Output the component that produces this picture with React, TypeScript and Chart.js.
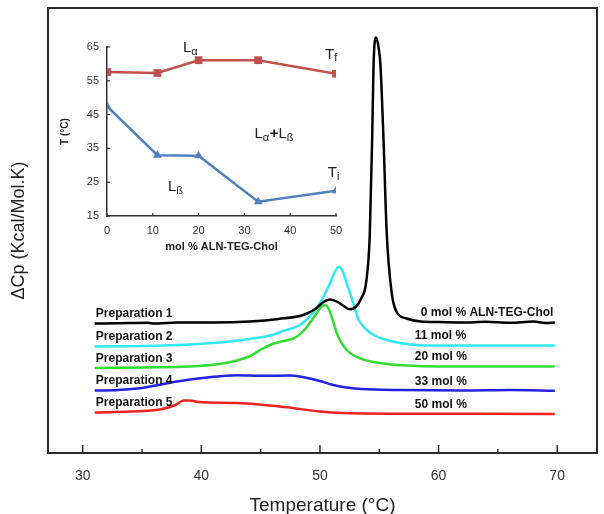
import React, { useEffect, useRef } from "react";
import { Chart, registerables } from "chart.js";
Chart.register(...registerables);

const FONT = "'Liberation Sans', Arial, sans-serif";

// ---- main DSC thermograms (x: temperature °C, y: ΔCp, arbitrary offset units) ----
const xTickValues = [30, 40, 50, 60, 70];
const xMinorTickValues = [35, 45, 55, 65];

const prep1T = [31, 33, 35.5, 36, 38, 41, 44.1, 46.5, 48.6, 49.6, 50.3, 50.84, 51.5, 52, 52.53, 53.0, 53.5, 53.9, 54.2, 54.4, 54.52, 54.73, 54.95, 55.1, 55.34, 55.63, 56.05, 56.47, 57.3, 58.5, 60, 62, 64, 66, 68, 69, 69.8];
const prep1Cp = [129.5, 129.8, 130.2, 129.4, 130.5, 130.5, 131.5, 134, 138, 144, 151, 153.5, 151, 147, 143.7, 146, 155, 171, 218, 313, 388, 415.5, 405, 388, 320, 220, 160, 141, 134.5, 131.5, 131, 130.5, 131.2, 130.2, 131.5, 130, 130.5];

const prep2T = [31, 35, 39, 42, 44.1, 46, 46.9, 48.3, 49.44, 50.14, 50.84, 51.25, 51.6, 51.95, 52.25, 52.81, 53.23, 53.94, 54.6, 55.34, 56.75, 57.6, 59, 69.8];
const prep2Cp = [106.5, 107, 108.5, 111, 114, 118, 122, 128, 140.5, 153, 169.5, 181, 186, 181, 170, 150, 134, 123, 117.5, 114, 110, 108.5, 107.5, 107.5];

const prep3T = [31, 35, 39, 41.5, 43, 44.1, 45.2, 46.0, 46.6, 47.47, 48.0, 48.6, 49.2, 49.72, 50.1, 50.42, 50.7, 50.98, 51.54, 52.25, 53.38, 55.34, 57.3, 60, 69.8];
const prep3Cp = [85, 85.5, 86.5, 89, 92.5, 97, 104.5, 109, 111, 113.5, 116, 122, 131, 139.7, 146, 148, 145, 136.3, 116.3, 103, 94.7, 89.5, 87.5, 86.5, 86.5];

const prep4T = [31, 33, 35, 36.8, 38.5, 40.5, 43, 45, 47.5, 49.5, 51.5, 53.5, 57, 62, 66, 69.8];
const prep4Cp = [62.5, 63, 65, 69, 72.5, 75.5, 77.7, 77.2, 77.5, 73.5, 67, 64, 63, 62.5, 63, 62.2];

const prep5T = [31, 34, 36.5, 37.8, 38.5, 39.0, 39.8, 43, 47, 50, 52.5, 60, 69.8];
const prep5Cp = [40.5, 41.5, 43.5, 48, 52.5, 52.5, 51, 50, 46, 41.5, 39.7, 39.2, 39];

const prepNames = ["Preparation 1", "Preparation 2", "Preparation 3", "Preparation 4", "Preparation 5"];
const molLabels = ["0 mol % ALN-TEG-Chol", "11 mol %", "20 mol %", "33 mol %", "50 mol %"];
const prepColors = ["#000000", "#33e8f4", "#33dd33", "#2222e0", "#f02222"];

// ---- inset phase diagram ----
const molPct = [0, 11, 20, 33, 50];
const tfValues = [57.6, 57.3, 61.1, 61.1, 57.1];
const tiValues = [47.5, 33.0, 32.8, 19.2, 22.5];
const insetXTicks = [0, 10, 20, 30, 40, 50];
const insetYTicks = [15, 25, 35, 45, 55, 65];

const insetLabels = [
  { parts: [["L", 0], ["α", 1]], x: 16.6, y: 64.6 },
  { parts: [["T", 0], ["f", 1]], x: 47.6, y: 62.8 },
  { parts: [["L", 0], ["α", 1], ["+", 0], ["L", 0], ["ß", 1]], x: 32.2, y: 39.2 },
  { parts: [["L", 0], ["ß", 1]], x: 13.3, y: 23.5 },
  { parts: [["T", 0], ["i", 1]], x: 48.2, y: 27.7 },
];

const series = [
  { t: prep1T, cp: prep1Cp },
  { t: prep2T, cp: prep2Cp },
  { t: prep3T, cp: prep3Cp },
  { t: prep4T, cp: prep4Cp },
  { t: prep5T, cp: prep5Cp },
];

const mainDecor = {
  id: "mainDecor",
  afterDraw(chart: any) {
    const { ctx, chartArea: a, scales } = chart;
    const xs = scales.x;
    const ys = scales.y;
    ctx.save();
    ctx.strokeStyle = "#2a2a2a";
    ctx.lineWidth = 2;
    ctx.strokeRect(a.left, a.top, a.right - a.left, a.bottom - a.top);
    ctx.lineWidth = 1.5;
    const tick = (v: number, len: number) => {
      const x = xs.getPixelForValue(v);
      ctx.beginPath();
      ctx.moveTo(x, a.bottom);
      ctx.lineTo(x, a.bottom - len);
      ctx.stroke();
    };
    xTickValues.forEach((v) => tick(v, 8));
    xMinorTickValues.forEach((v) => tick(v, 4));

    ctx.font = `bold 12px ${FONT}`;
    ctx.fillStyle = "#111";
    ctx.textBaseline = "middle";
    ctx.textAlign = "left";
    series.forEach((s, i) => {
      ctx.fillText(prepNames[i], xs.getPixelForValue(31.1), ys.getPixelForValue(s.cp[0]) - 9.5);
      ctx.fillText(
        molLabels[i],
        xs.getPixelForValue(i === 0 ? 58.5 : 58.0),
        ys.getPixelForValue(s.cp[s.cp.length - 1]) - 9.5
      );
    });
    ctx.restore();
  },
};

const insetDecor = {
  id: "insetDecor",
  afterDraw(chart: any) {
    const { ctx, chartArea: a, scales } = chart;
    const xs = scales.x;
    const ys = scales.y;
    ctx.save();
    ctx.strokeStyle = "#333";
    ctx.lineWidth = 1.2;
    insetXTicks.forEach((v) => {
      const x = xs.getPixelForValue(v);
      ctx.beginPath();
      ctx.moveTo(x, a.bottom);
      ctx.lineTo(x, a.bottom - 3);
      ctx.stroke();
    });
    insetYTicks.forEach((v) => {
      const y = ys.getPixelForValue(v);
      ctx.beginPath();
      ctx.moveTo(a.left, y);
      ctx.lineTo(a.left + 3, y);
      ctx.stroke();
    });
    ctx.fillStyle = "#222";
    ctx.textBaseline = "middle";
    ctx.textAlign = "left";
    insetLabels.forEach((l: any) => {
      let x = xs.getPixelForValue(l.x);
      const y = ys.getPixelForValue(l.y);
      l.parts.forEach(([txt, isSub]: [string, number]) => {
        ctx.font = isSub ? `11px ${FONT}` : txt === "+" ? `bold 15px ${FONT}` : `15px ${FONT}`;
        ctx.fillText(txt, x, isSub ? y + 4 : y);
        x += ctx.measureText(txt).width + (isSub ? 0.5 : 0);
      });
    });
    ctx.restore();
  },
};

export default function App() {
  const mainRef = useRef<HTMLCanvasElement>(null);
  const insetRef = useRef<HTMLCanvasElement>(null);

  useEffect(() => {
    const main = new Chart(mainRef.current as HTMLCanvasElement, {
      type: "line",
      data: {
        datasets: series.map((s, i) => ({
          label: prepNames[i],
          data: s.t.map((t, j) => ({ x: t, y: s.cp[j] })),
          borderColor: prepColors[i],
          borderWidth: 2.5,
          pointRadius: 0,
          fill: false,
          cubicInterpolationMode: "monotone" as const,
        })),
      },
      options: {
        animation: false,
        responsive: false,
        layout: { padding: { top: 8, right: 7, left: 0, bottom: 0 } },
        plugins: { legend: { display: false }, tooltip: { enabled: false } },
        scales: {
          x: {
            type: "linear",
            min: 27.07,
            max: 73.36,
            grid: { display: false, drawTicks: false },
            border: { display: false },
            afterBuildTicks: (scale: any) => {
              scale.ticks = xTickValues.map((v) => ({ value: v }));
            },
            afterFit: (scale: any) => {
              scale.height = 61;
            },
            ticks: { padding: 15, color: "#333", font: { size: 14, family: FONT } },
            title: {
              display: true,
              text: "Temperature (°C)",
              color: "#222",
              font: { size: 19, family: FONT },
              padding: { top: 0, bottom: -3 },
            },
          },
          y: {
            type: "linear",
            min: 0,
            max: 445,
            grid: { display: false, drawTicks: false },
            border: { display: false },
            ticks: { display: false },
            afterFit: (scale: any) => {
              scale.width = 48;
            },
            title: {
              display: true,
              text: "ΔCp (Kcal/Mol.K)",
              color: "#222",
              font: { size: 18, family: FONT },
              padding: { top: 8, bottom: 0 },
            },
          },
        },
      },
      plugins: [mainDecor],
    });

    const inset = new Chart(insetRef.current as HTMLCanvasElement, {
      type: "line",
      data: {
        datasets: [
          {
            label: "Tf",
            data: molPct.map((m, i) => ({ x: m, y: tfValues[i] })),
            borderColor: "#c0504d",
            backgroundColor: "#c0504d",
            borderWidth: 2.5,
            pointStyle: "rect",
            pointRadius: 5.5,
            pointBorderWidth: 0,
            fill: false,
          },
          {
            label: "Ti",
            data: molPct.map((m, i) => ({ x: m, y: tiValues[i] })),
            borderColor: "#4f81bd",
            backgroundColor: "#4f81bd",
            borderWidth: 2.5,
            pointStyle: "triangle",
            pointRadius: 5,
            pointBorderWidth: 0,
            fill: false,
          },
        ],
      },
      options: {
        animation: false,
        responsive: false,
        layout: { padding: { top: 27, right: 24, left: 0, bottom: 0 } },
        plugins: { legend: { display: false }, tooltip: { enabled: false } },
        scales: {
          x: {
            type: "linear",
            min: 0,
            max: 50,
            grid: { display: false, drawTicks: false },
            border: { display: true, color: "#333", width: 1.5 },
            afterBuildTicks: (scale: any) => {
              scale.ticks = insetXTicks.map((v) => ({ value: v }));
            },
            afterFit: (scale: any) => {
              scale.height = 54;
            },
            ticks: { padding: 8, color: "#333", font: { size: 11, family: FONT } },
            title: {
              display: true,
              text: "mol % ALN-TEG-Chol",
              color: "#222",
              font: { size: 11, weight: "bold", family: FONT },
              padding: { top: 0, bottom: 16 },
            },
          },
          y: {
            type: "linear",
            min: 15,
            max: 65,
            grid: { display: false, drawTicks: false },
            border: { display: true, color: "#333", width: 1.5 },
            afterBuildTicks: (scale: any) => {
              scale.ticks = insetYTicks.map((v) => ({ value: v }));
            },
            afterFit: (scale: any) => {
              scale.width = 67;
            },
            ticks: { padding: 8, color: "#333", font: { size: 11, family: FONT } },
            title: {
              display: true,
              text: "T (°C)",
              color: "#222",
              font: { size: 10, weight: "bold", family: FONT },
              padding: { top: 19, bottom: 0 },
            },
          },
        },
      },
      plugins: [insetDecor],
    });

    return () => {
      main.destroy();
      inset.destroy();
    };
  }, []);

  return (
    <div style={{ position: "absolute", left: 0, top: 0, width: 604, height: 514, background: "#fff" }}>
      <canvas ref={mainRef} width={604} height={514} style={{ position: "absolute", left: 0, top: 0 }} />
      <canvas ref={insetRef} width={320} height={250} style={{ position: "absolute", left: 40, top: 20 }} />
    </div>
  );
}
